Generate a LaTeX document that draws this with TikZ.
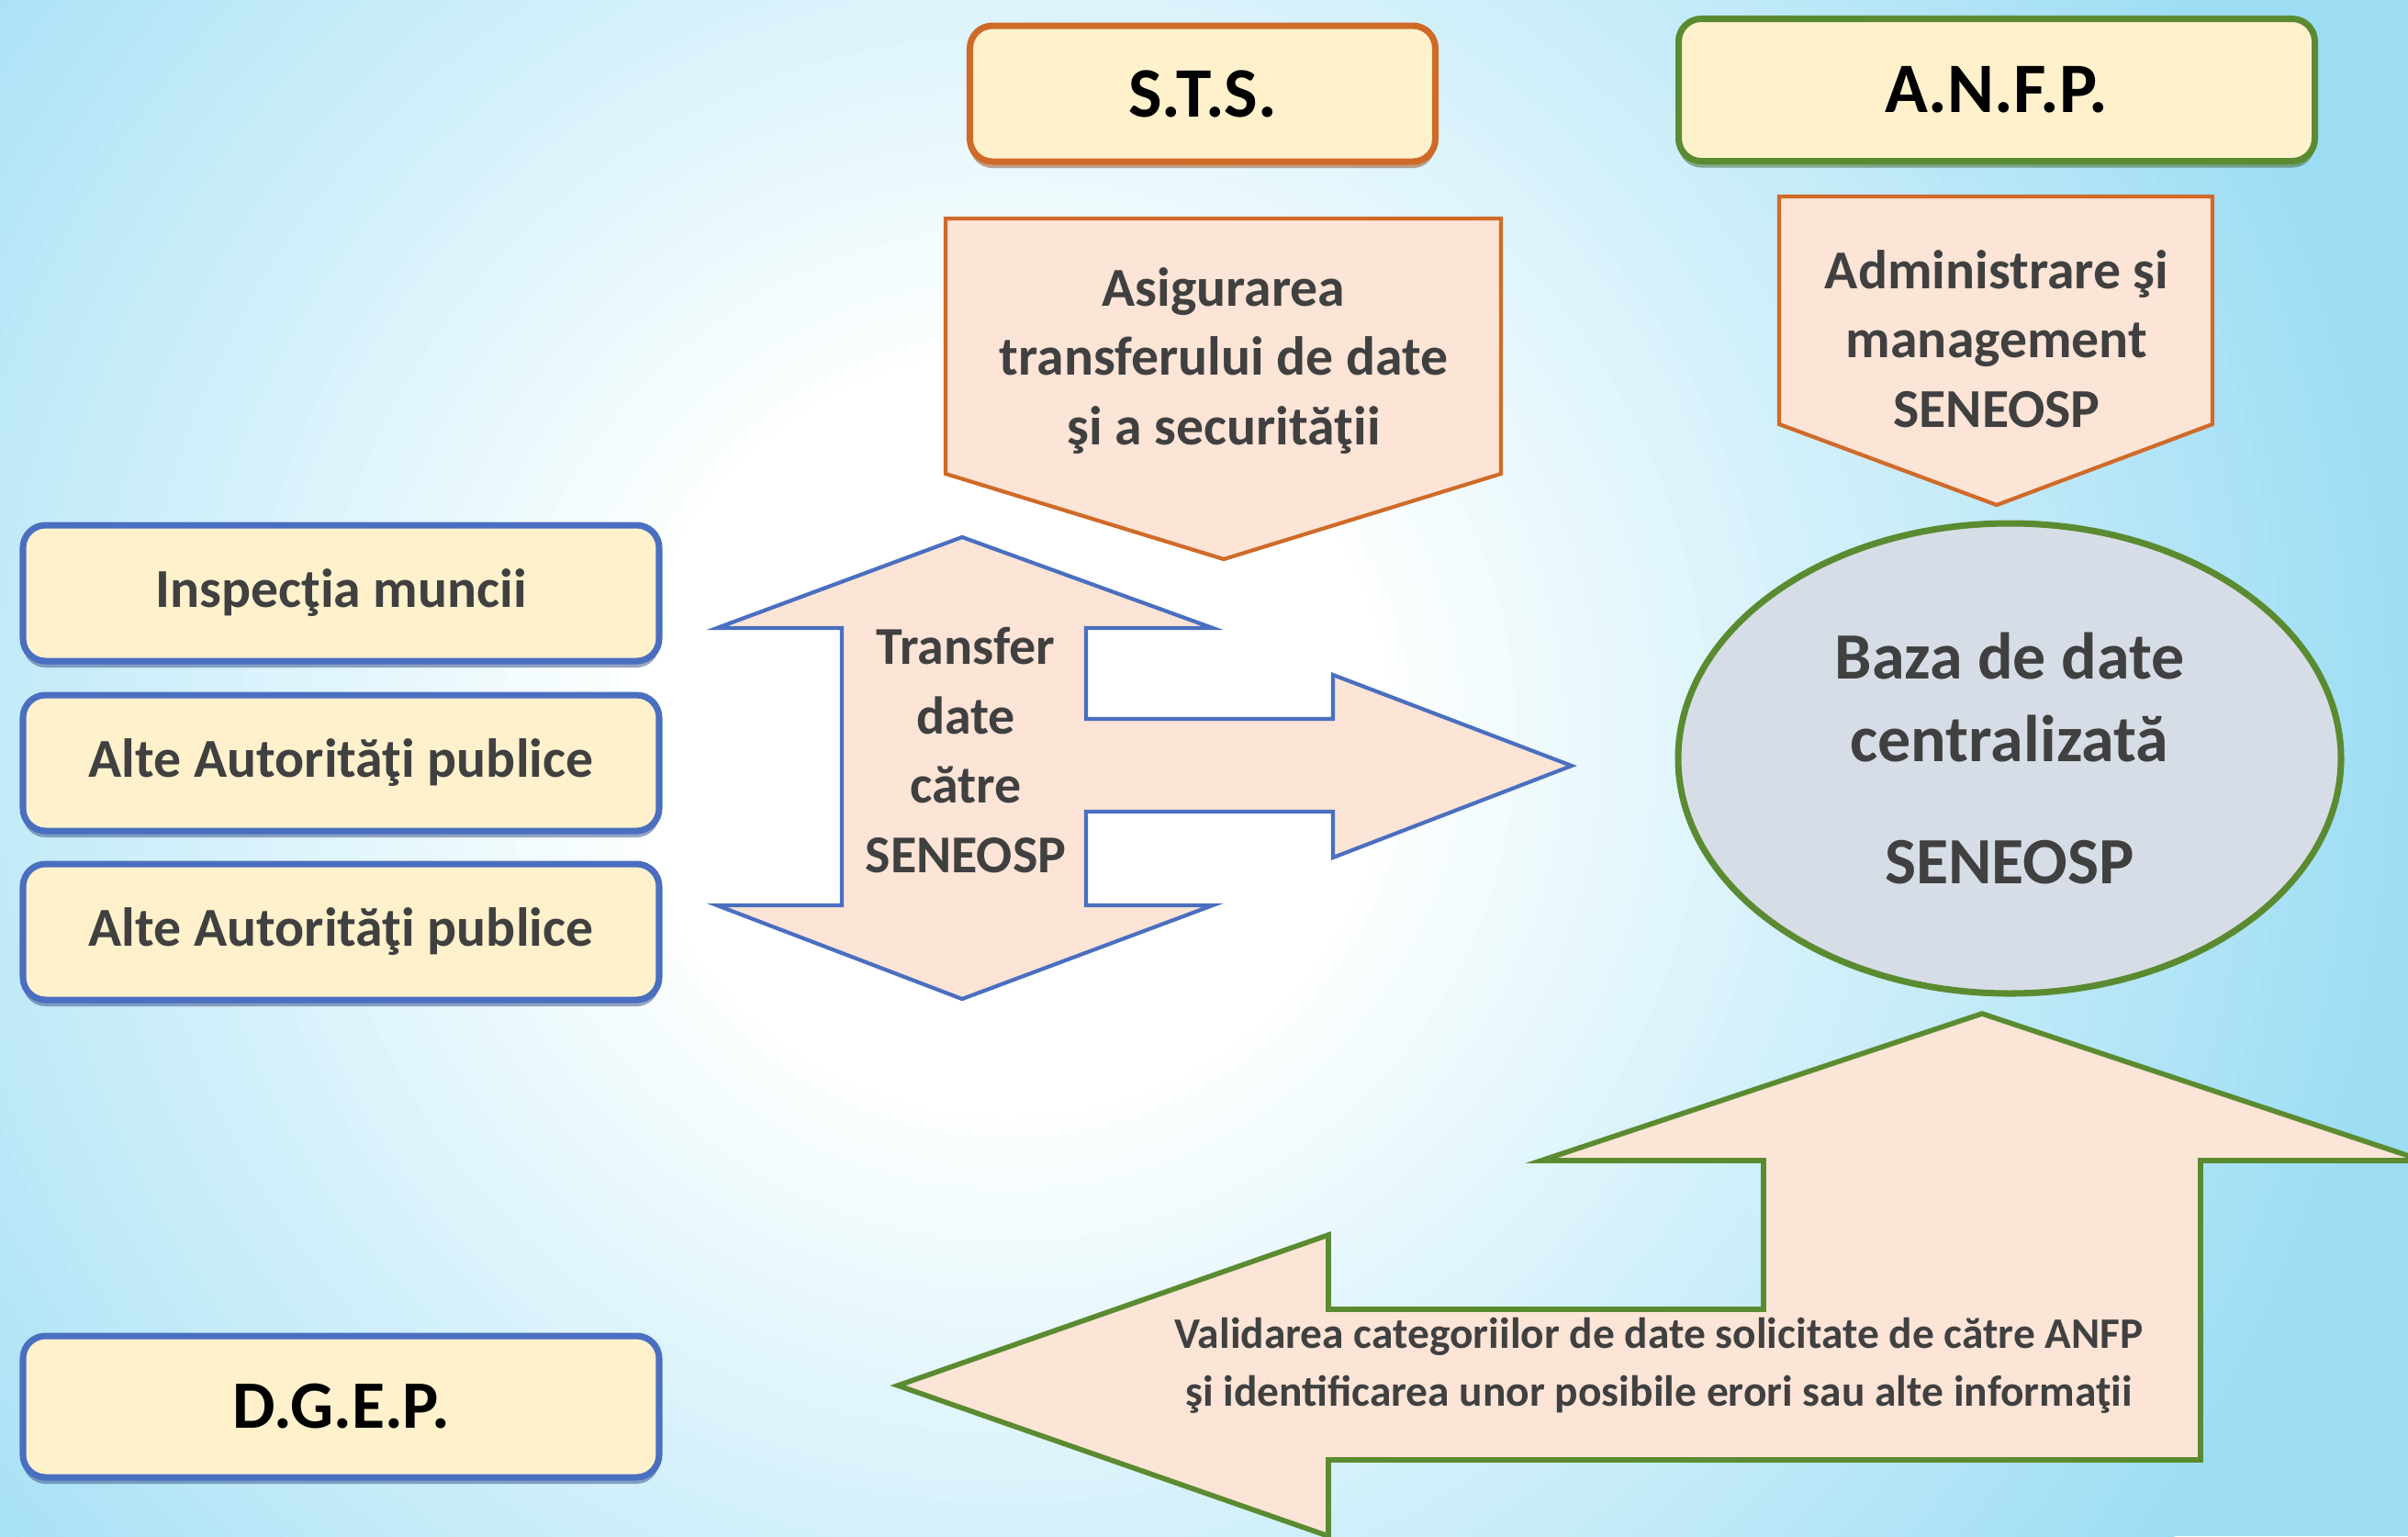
\documentclass[tikz,border=0pt]{standalone}
\usepackage{fontspec}
\setmainfont{Carlito}
\usetikzlibrary{positioning, shapes.geometric, shadows}

\definecolor{bgblue}{HTML}{9CDDF4}
\definecolor{boxcream}{HTML}{FEF1CC}
\definecolor{arrowpeach}{HTML}{FCE4D6}
\definecolor{dbgray}{HTML}{D7DDE6}
\definecolor{stsorange}{HTML}{D06A28}
\definecolor{anfpgreen}{HTML}{5B8B31}
\definecolor{srcblue}{HTML}{4A6FC0}
\definecolor{textgray}{HTML}{404040}

\begin{document}
\begin{tikzpicture}[x=1cm, y=-1cm,
    title_box/.style={draw, rounded corners=7pt, line width=2pt, fill=boxcream, inner sep=0pt, minimum width=6.93cm, minimum height=1.55cm, font=\fontsize{22}{26}\selectfont\bfseries},
    sts_box/.style={title_box, draw=stsorange, minimum width=5.07cm, minimum height=1.48cm, drop shadow={shadow xshift=0pt, shadow yshift=-2pt, fill=stsorange!70!black, opacity=0.5}},
    anfp_box/.style={title_box, draw=anfpgreen, drop shadow={shadow xshift=0pt, shadow yshift=-2pt, fill=anfpgreen!70!black, opacity=0.5}},
    source_box/.style={title_box, draw=srcblue, minimum height=1.48cm, text=textgray, font=\fontsize{17}{20}\selectfont\bfseries, drop shadow={shadow xshift=0pt, shadow yshift=-2pt, fill=srcblue!70!black, opacity=0.5}},
    dgep_box/.style={source_box, minimum height=1.54cm, text=black, font=\fontsize{21}{25}\selectfont\bfseries},
    block_arrow/.style={fill=arrowpeach, line width=1.2pt, line join=miter},
    task_text/.style={align=center, inner sep=0pt, text=textgray, font=\fontsize{17}{21.5}\selectfont\bfseries},
    db_style/.style={ellipse, draw=anfpgreen, line width=2pt, fill=dbgray, minimum width=7.22cm, minimum height=5.12cm, align=center, text=textgray, font=\fontsize{20.5}{25.6}\selectfont\bfseries}
]

% BACKGROUND (white in the middle, light blue towards the edges)
\useasboundingbox (0,0) rectangle (26.23,16.73);
\begin{scope}
    \clip (0,0) rectangle (26.23,16.73);
    \fill[bgblue] (0,0) rectangle (26.23,16.73);
    \foreach \i [evaluate=\i as \r using 15.4-0.19*\i, evaluate=\i as \p using int(100-5*\i/3)] in {0,...,60}
        \fill[bgblue!\p!white] (11.0,8.0) circle (\r);
\end{scope}

% TOP ROW - TITLES
\node[sts_box] (sts) at (13.10,1.02) {S.T.S.};
\node[anfp_box] (anfp) at (21.75,0.98) {A.N.F.P.};

% Task arrows below the titles
\draw[block_arrow, draw=stsorange] (10.30,2.38) -- (16.35,2.38) -- (16.35,5.16) -- (13.33,6.09) -- (10.30,5.16) -- cycle;
\node[task_text] (sts_task) at (13.33,3.93) {Asigurarea\\transferului de date\\şi a securităţii};

\draw[block_arrow, draw=stsorange] (19.38,2.14) -- (24.10,2.14) -- (24.10,4.62) -- (21.75,5.50) -- (19.38,4.62) -- cycle;
\node[task_text] (anfp_task) at (21.75,3.69) {Administrare şi\\management\\SENEOSP};

% LEFT COLUMN - SOURCES
\node[source_box] (src1) at (3.715,6.46) {Inspecţia muncii};
\node[source_box] (src2) at (3.715,8.31) {Alte Autorităţi publice};
\node[source_box] (src3) at (3.715,10.15) {Alte Autorităţi publice};
\node[dgep_box] (dgep) at (3.715,15.32) {D.G.E.P.};

% Transfer arrow (up, down and right)
\draw[block_arrow, draw=srcblue] (10.48,5.85) -- (13.21,6.84) -- (11.83,6.84) -- (11.83,7.83) -- (14.52,7.83)
    -- (14.52,7.35) -- (17.12,8.34) -- (14.52,9.34) -- (14.52,8.84) -- (11.83,8.84) -- (11.83,9.86)
    -- (13.21,9.86) -- (10.48,10.88) -- (7.81,9.86) -- (9.17,9.86) -- (9.17,6.84) -- (7.81,6.84) -- cycle;
\node[task_text, font=\fontsize{16.5}{21.6}\selectfont\bfseries] (transfer) at (10.52,8.17) {Transfer\\date\\către\\SENEOSP};

% RIGHT COLUMN - CENTRAL DATABASE
\node[db_style] (db) at (21.89,8.26) {Baza de date\\centralizată\\[12pt]SENEOSP};

% Validation arrow (up and left)
\draw[block_arrow, draw=anfpgreen, line width=1.6pt] (21.59,11.04) -- (26.39,12.64) -- (23.97,12.64) -- (23.97,15.90)
    -- (14.47,15.90) -- (14.47,16.73) -- (9.78,15.09) -- (14.47,13.45) -- (14.47,14.26) -- (19.21,14.26)
    -- (19.21,12.64) -- (16.79,12.64) -- cycle;
\node[task_text, font=\fontsize{13.5}{18}\selectfont\bfseries] (validation) at (18.07,14.87) {Validarea categoriilor de date solicitate de către ANFP\\şi identificarea unor posibile erori sau alte informaţii};

\end{tikzpicture}
\end{document}
